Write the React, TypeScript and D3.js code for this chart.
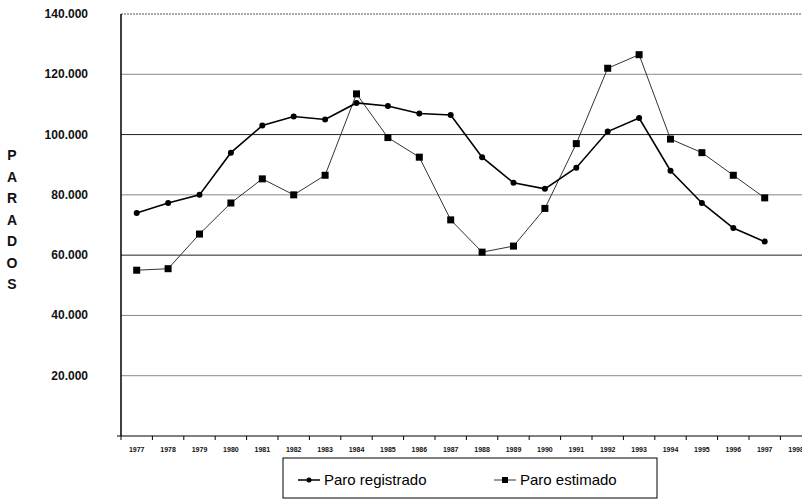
import React from "react";
import * as d3 from "d3";

const years = ["1977","1978","1979","1980","1981","1982","1983","1984","1985","1986","1987","1988","1989","1990","1991","1992","1993","1994","1995","1996","1997","1998"];
const paroRegistrado = [74000,77300,80000,94000,103000,106000,105000,110500,109500,107000,106500,92500,84000,82000,89000,101000,105500,88000,77300,69000,64500];
const paroEstimado = [55000,55500,67000,77300,85300,80000,86500,113500,99000,92500,71700,61000,63000,75500,97000,122000,126500,98500,94000,86500,79000];
const yTicks = [0,20000,40000,60000,80000,100000,120000,140000];
const yLabel = "PARADOS";
const legendLabels = ["Paro registrado", "Paro estimado"];

export default function App() {
  const W = 802, H = 502;
  const x = d3.scaleBand<string>().domain(years).range([121, 121 + 31.4 * years.length]);
  const y = d3.scaleLinear().domain([0, 140000]).range([436, 14]);
  const fmt = (v: number) => (v === 0 ? "" : d3.format(",")(v).replace(/,/g, "."));
  const cx = (i: number) => (x(years[i]) as number) + x.bandwidth() / 2;
  const line = d3.line<number>().x((_, i) => cx(i)).y((d) => y(d));
  const font = "Arial, 'Liberation Sans', sans-serif";
  return (
    <svg width={W} height={H} style={{ position: "absolute", left: 0, top: 0, background: "#fff" }} fontFamily={font}>
      {yTicks.filter((t) => t > 0).map((t) => (
        <g key={t}>
          <line x1={121} x2={W} y1={y(t)} y2={y(t)} stroke={t === 140000 ? "#555" : (t === 100000 || t === 60000) ? "#222" : "#888"} strokeWidth={1} strokeDasharray={t === 140000 ? "2,1" : undefined} />
          <text x={88} y={y(t) + 4} textAnchor="end" fontSize={12} fontWeight="bold" fill="#111">{fmt(t)}</text>
        </g>
      ))}
      <line x1={121} x2={121} y1={14} y2={436} stroke="#000" strokeWidth={1.5} />
      <line x1={117} x2={W} y1={436} y2={436} stroke="#000" strokeWidth={1.2} />
      {years.map((yr) => (
        <g key={yr}>
          <line x1={x(yr) as number} x2={x(yr) as number} y1={436} y2={440} stroke="#000" />
          <text x={(x(yr) as number) + x.bandwidth() / 2} y={452} textAnchor="middle" fontSize={7} fontWeight="bold" fill="#111">{yr}</text>
        </g>
      ))}
      {yLabel.split("").map((c, i) => (
        <text key={i} x={12} y={160 + i * 21.5} textAnchor="middle" fontSize={14} fontWeight="bold" fill="#111">{c}</text>
      ))}
      <path d={line(paroEstimado) || ""} fill="none" stroke="#333" strokeWidth={1} />
      <path d={line(paroRegistrado) || ""} fill="none" stroke="#000" strokeWidth={1.6} />
      {paroEstimado.map((v, i) => (
        <rect key={i} x={cx(i) - 3.5} y={y(v) - 3.5} width={7} height={7} fill="#000" />
      ))}
      {paroRegistrado.map((v, i) => (
        <circle key={i} cx={cx(i)} cy={y(v)} r={3} fill="#000" />
      ))}
      <rect x={283} y={458} width={374} height={40} fill="#fff" stroke="#000" strokeWidth={1} />
      <g>
        <line x1={298} x2={320} y1={480} y2={480} stroke="#000" strokeWidth={1.5} />
        <circle cx={309} cy={480} r={2.5} fill="#000" />
        <text x={324} y={485} fontSize={15} fill="#000">{legendLabels[0]}</text>
        <line x1={494} x2={516} y1={480} y2={480} stroke="#333" strokeWidth={1} />
        <rect x={502} y={477} width={6} height={6} fill="#000" />
        <text x={520} y={485} fontSize={15} fill="#000">{legendLabels[1]}</text>
      </g>
    </svg>
  );
}
